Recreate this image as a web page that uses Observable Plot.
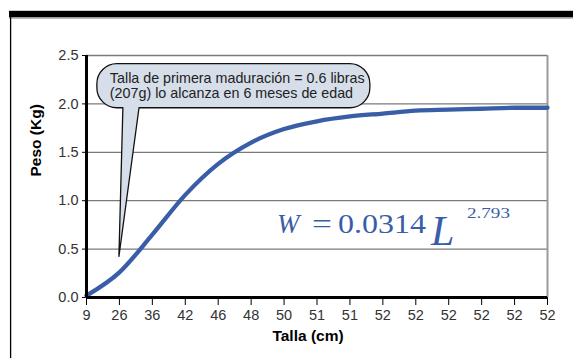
<!DOCTYPE html>
<html><head><meta charset="utf-8">
<script src="https://cdn.jsdelivr.net/npm/d3@7"></script>
<script src="https://cdn.jsdelivr.net/npm/@observablehq/plot@0.6"></script>
<style>
body{margin:0;background:#fff;}
#chart{position:relative;width:573px;height:358px;}
svg{display:block;}
</style></head><body><div id="chart"></div>
<script>
// ---- data ----
const tickLabels = ["9","26","36","42","46","48","50","51","51","52","52","52","52","52","52"];
const peso = [0.02,0.26,0.65,1.06,1.38,1.60,1.74,1.82,1.87,1.90,1.93,1.94,1.95,1.96,1.96];
const yTicks = [0,0.5,1,1.5,2,2.5];
const calloutLines = ["Talla de primera maduración = 0.6 libras","(207g) lo alcanza en 6 meses de edad"];
const eqLeft = "W", eqCoef = "0.0314", eqVar = "L", eqExp = "2.793";
// callout & equation anchors in data units (index, kg)
const bubble = {x0:0.33, x1:8.62, yTop:2.41, yBot:1.955, tailX0:1.12, tailX1:1.61, tipX:1.0, tipY:0.42};
const eqAnchor = {x:5.8, y:0.66};

const data = peso.map((p,i)=>({i, p}));
const font = "'Liberation Sans', Arial, sans-serif";
const serif = "'Liberation Serif', 'Times New Roman', serif";
const blue = "#3a5da8";

const plot = Plot.plot({
  width:573, height:358, marginLeft:86, marginRight:26, marginTop:55, marginBottom:61,
  style:{fontFamily: font, fontSize:"13px", color:"#333", background:"transparent", overflow:"visible"},
  x:{domain:[0, tickLabels.length-1], axis:null},
  y:{domain:[0,2.5], axis:null},
  marks:[
    Plot.gridY(yTicks.slice(1), {stroke:"#7a7a7a", strokeOpacity:1, strokeWidth:1.3}),
    Plot.ruleX([tickLabels.length-1], {stroke:"#9a9a9a", strokeWidth:2}),
    Plot.axisY(yTicks, {tickFormat: d=>d.toFixed(1), tickSize:4, tickPadding:4, stroke:"#000", fill:"#333", fontSize:14.5, label:null}),
    Plot.axisX(d3.range(tickLabels.length), {tickFormat: i=>tickLabels[i], tickSize:8, tickPadding:4, stroke:"#000", fill:"#333", fontSize:14.5, label:null}),
    Plot.line(data, {x:"i", y:"p", curve:"monotone-x", stroke: blue, strokeWidth:4.3}),
    Plot.ruleX([0], {stroke:"#000", strokeWidth:3}),
    Plot.ruleY([0], {stroke:"#000", strokeWidth:3}),
    Plot.text(["Talla (cm)"], {frameAnchor:"bottom", dy:43, dx:-9, fontWeight:"bold", fontSize:15.5, fill:"#000"}),
    Plot.text(["Peso (Kg)"], {frameAnchor:"left", dx:-50, rotate:-90, fontWeight:"bold", fontSize:15.5, fill:"#000"})
  ]
});
document.getElementById("chart").appendChild(plot);

const svg = d3.select(plot);
const X = plot.scale("x"), Y = plot.scale("y");
const sx = v => X.apply(v), sy = v => Y.apply(v);

// outer card decoration
svg.append("rect").attr("x",9).attr("y",10.8).attr("width",564).attr("height",6.6).attr("fill","#000");
svg.append("line").attr("x1",9).attr("x2",573).attr("y1",18.3).attr("y2",18.3).attr("stroke","#aaa").attr("stroke-width",1);
svg.append("line").attr("x1",10.6).attr("x2",10.6).attr("y1",11).attr("y2",358).attr("stroke","#000").attr("stroke-width",1.3);

// callout bubble
{
  const x0=sx(bubble.x0), x1=sx(bubble.x1), t=sy(bubble.yTop), b=sy(bubble.yBot);
  const r=20, tx0=sx(bubble.tailX0), tx1=sx(bubble.tailX1), px=sx(bubble.tipX), py=sy(bubble.tipY);
  const d = `M${x0+r},${t} L${x1-r},${t} A${r},${r} 0 0 1 ${x1},${t+r} L${x1},${b-r} A${r},${r} 0 0 1 ${x1-r},${b}`+
            ` L${tx1},${b} L${px},${py} L${tx0},${b} L${x0+r},${b} A${r},${r} 0 0 1 ${x0},${b-r} L${x0},${t+r} A${r},${r} 0 0 1 ${x0+r},${t} Z`;
  svg.append("path").attr("d",d).attr("fill","#d6dee9").attr("stroke","#111").attr("stroke-width",1.3).attr("stroke-linejoin","round");
  calloutLines.forEach((s,k)=>{
    svg.append("text").attr("x",x0+13).attr("y",t+19.5+k*15).attr("text-anchor","start")
      .attr("font-family",font).attr("font-size",14.3).attr("fill","#222").text(s);
  });
}

// equation
{
  const ax=sx(eqAnchor.x), ay=sy(eqAnchor.y);
  const g = svg.append("g").attr("fill",blue).attr("font-family",serif).attr("text-anchor","start");
  g.append("text").attr("x",ax).attr("y",ay).attr("font-size",27).attr("font-style","italic").text(eqLeft);
  g.append("text").attr("x",ax+35).attr("y",ay).attr("font-size",27).attr("textLength",20).attr("lengthAdjust","spacingAndGlyphs").text("=");
  g.append("text").attr("x",ax+61).attr("y",ay).attr("font-size",28).attr("textLength",88).attr("lengthAdjust","spacingAndGlyphs").text(eqCoef);
  g.append("text").attr("x",ax+154).attr("y",ay+12).attr("font-size",42).attr("font-style","italic").text(eqVar);
  g.append("text").attr("x",ax+190).attr("y",ay-15).attr("font-size",14.5).attr("textLength",43).attr("lengthAdjust","spacingAndGlyphs").text(eqExp);
}
</script></body></html>
